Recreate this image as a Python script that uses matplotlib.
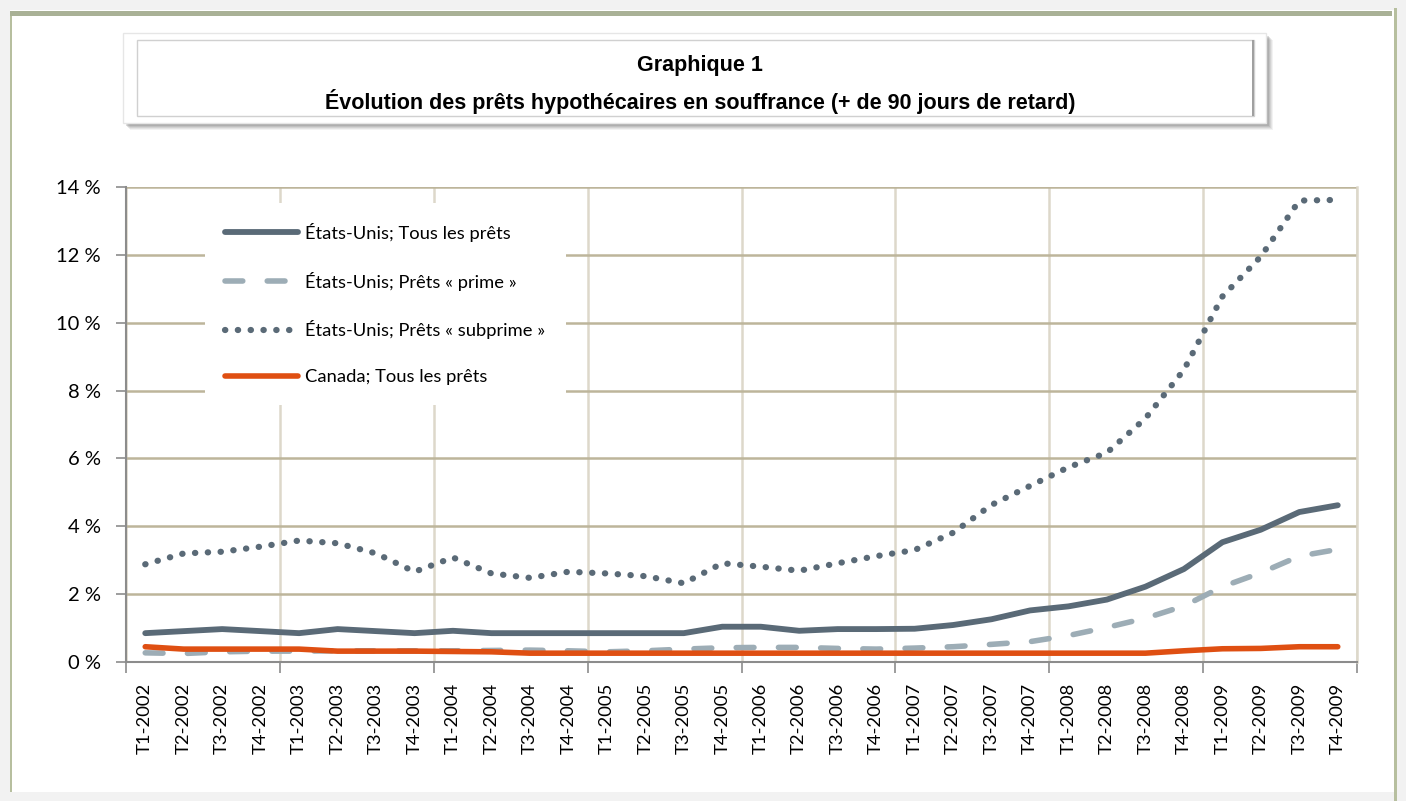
import matplotlib
matplotlib.use("Agg")
import matplotlib.pyplot as plt
from matplotlib.patches import Rectangle
import numpy as np

# Quarterly data, % of mortgages 90+ days in arrears
trimestres = ["T1-2002", "T2-2002", "T3-2002", "T4-2002",
              "T1-2003", "T2-2003", "T3-2003", "T4-2003",
              "T1-2004", "T2-2004", "T3-2004", "T4-2004",
              "T1-2005", "T2-2005", "T3-2005", "T4-2005",
              "T1-2006", "T2-2006", "T3-2006", "T4-2006",
              "T1-2007", "T2-2007", "T3-2007", "T4-2007",
              "T1-2008", "T2-2008", "T3-2008", "T4-2008",
              "T1-2009", "T2-2009", "T3-2009", "T4-2009"]

us_tous = [0.85, 0.91, 0.97, 0.91, 0.85, 0.97, 0.91, 0.85,
           0.92, 0.85, 0.85, 0.85, 0.85, 0.85, 0.85, 1.04,
           1.04, 0.92, 0.97, 0.97, 0.98, 1.09, 1.26, 1.52,
           1.64, 1.84, 2.22, 2.74, 3.53, 3.90, 4.42, 4.62]

us_prime = [0.27, 0.25, 0.30, 0.32, 0.32, 0.33, 0.33, 0.33,
            0.33, 0.34, 0.35, 0.33, 0.30, 0.33, 0.38, 0.42,
            0.43, 0.43, 0.40, 0.38, 0.41, 0.45, 0.52, 0.60,
            0.78, 1.02, 1.29, 1.65, 2.22, 2.63, 3.12, 3.32]

us_subprime = [2.88, 3.20, 3.25, 3.40, 3.58, 3.50, 3.20, 2.66,
               3.08, 2.61, 2.48, 2.66, 2.61, 2.53, 2.32, 2.91,
               2.81, 2.69, 2.91, 3.12, 3.30, 3.81, 4.63, 5.19,
               5.74, 6.17, 7.18, 8.61, 10.77, 11.95, 13.60, 13.62]

canada_tous = [0.45, 0.38, 0.38, 0.38, 0.38, 0.32, 0.32, 0.32,
               0.31, 0.30, 0.26, 0.26, 0.26, 0.26, 0.26, 0.26,
               0.26, 0.26, 0.26, 0.26, 0.26, 0.26, 0.26, 0.26,
               0.26, 0.26, 0.26, 0.33, 0.39, 0.40, 0.45, 0.45]

y_ticks = [0, 2, 4, 6, 8, 10, 12, 14]

W, H = 1406, 801

def fx(px):
    return px / W

def fy(py):
    # py measured from top of image
    return 1 - py / H

fig = plt.figure(figsize=(14.06, 8.01), dpi=100)
fig.patch.set_facecolor("#f2f2f2")

# page frame
fig.add_artist(Rectangle((fx(10), fy(792)), fx(1384), 782 / H,
                         transform=fig.transFigure, facecolor="white",
                         edgecolor="none", zorder=0))
fig.add_artist(Rectangle((fx(10), fy(16)), fx(1382), 5 / H,
                         transform=fig.transFigure, facecolor="#a9b196",
                         edgecolor="none", zorder=1))
fig.add_artist(Rectangle((fx(10), fy(792)), fx(2), 776 / H,
                         transform=fig.transFigure, facecolor="#b7bf9f",
                         edgecolor="none", zorder=1))
fig.add_artist(Rectangle((fx(1394), fy(801)), fx(3), 793 / H,
                         transform=fig.transFigure, facecolor="#b7bf9f",
                         edgecolor="none", zorder=1))

# title box with soft shadow
for k, a in enumerate([0.10, 0.13, 0.17, 0.22, 0.28]):
    off = 7 - k
    fig.add_artist(Rectangle((fx(123 + off), fy(123 + off)), fx(1143), 90 / H,
                             transform=fig.transFigure, facecolor="#808080",
                             alpha=a, edgecolor="none", zorder=2))
fig.add_artist(Rectangle((fx(123), fy(123)), fx(1143), 90 / H,
                         transform=fig.transFigure, facecolor="white",
                         edgecolor="#e6e6e6", lw=1, zorder=3))
fig.add_artist(Rectangle((fx(137), fy(116)), fx(1117), 76 / H,
                         transform=fig.transFigure, facecolor="none",
                         edgecolor="#d0d0d0", lw=1, zorder=4))
fig.add_artist(Rectangle((fx(1252), fy(116)), fx(2), 76 / H,
                         transform=fig.transFigure, facecolor="#a0a0a0",
                         edgecolor="none", zorder=4))
fig.text(fx(700), fy(65), "Graphique 1", ha="center", va="center",
         fontsize=15.5, fontweight="bold", family="Liberation Sans", zorder=5)
fig.text(fx(700), fy(101),
         "Évolution des prêts hypothécaires en souffrance (+ de 90 jours de retard)",
         ha="center", va="center", fontsize=15.5, fontweight="bold",
         family="Liberation Sans", zorder=5)

ax = fig.add_axes([fx(126), fy(662), fx(1231), 475 / H])
ax.set_facecolor("white")
ax.set_zorder(3)

x = np.arange(len(trimestres))

ax.plot(x, us_tous, color="#5a6a77", lw=4.2, solid_capstyle="round",
        solid_joinstyle="round", label="États-Unis; Tous les prêts", zorder=5)
ax.plot(x, us_prime, color="#9dadb6", lw=4.0, dash_capstyle="round",
        dashes=(3.2, 4.4), label="États-Unis; Prêts « prime »", zorder=4)
ax.plot(x, us_subprime, color="#5a6a77", lw=4.5, dash_capstyle="round",
        dashes=(0.05, 2.0), label="États-Unis; Prêts « subprime »", zorder=4)
ax.plot(x, canada_tous, color="#df4f12", lw=4.0, solid_capstyle="round",
        solid_joinstyle="round", label="Canada; Tous les prêts", zorder=6)

ax.set_xlim(-0.5, len(trimestres) - 0.5)
ax.set_ylim(0, 14)

ax.set_xticks(x)
ax.set_xticklabels(trimestres, rotation=90, fontsize=13.3, family="Lato")
ax.set_xticks(np.arange(-0.5, len(trimestres), 4), minor=True)
ax.tick_params(axis="x", which="major", length=0, pad=15)
ax.tick_params(axis="x", which="minor", length=8, color="#8c8c8c", width=1.2)

ax.set_yticks(y_ticks)
ax.set_yticklabels([f"{v} %" for v in y_ticks], fontsize=14.5, family="Lato")
ax.tick_params(axis="y", length=7, color="#8c8c8c", width=1.2, pad=11)

ax.grid(axis="y", which="major", color="#bdb59b", lw=1.8, zorder=0)
ax.grid(axis="x", which="minor", color="#ddd8ca", lw=1.8, zorder=0)
ax.set_axisbelow(True)

ax.spines["top"].set_visible(False)
ax.spines["right"].set_color("#ddd8ca")
ax.spines["right"].set_linewidth(1.8)
ax.spines["left"].set_color("#8c8c8c")
ax.spines["left"].set_linewidth(1.5)
ax.spines["bottom"].set_color("#8c8c8c")
ax.spines["bottom"].set_linewidth(1.5)

leg = ax.legend(loc="upper left", bbox_to_anchor=(0.064, 0.967),
                borderaxespad=0, frameon=True, fancybox=False,
                facecolor="white", edgecolor="none", framealpha=1,
                prop={"family": "Lato", "size": 13.2},
                handlelength=4.0, handletextpad=0.38, labelspacing=1.62,
                borderpad=1.1)
leg.set_zorder(10)

fig.savefig("out.png", dpi=100, facecolor=fig.get_facecolor())
